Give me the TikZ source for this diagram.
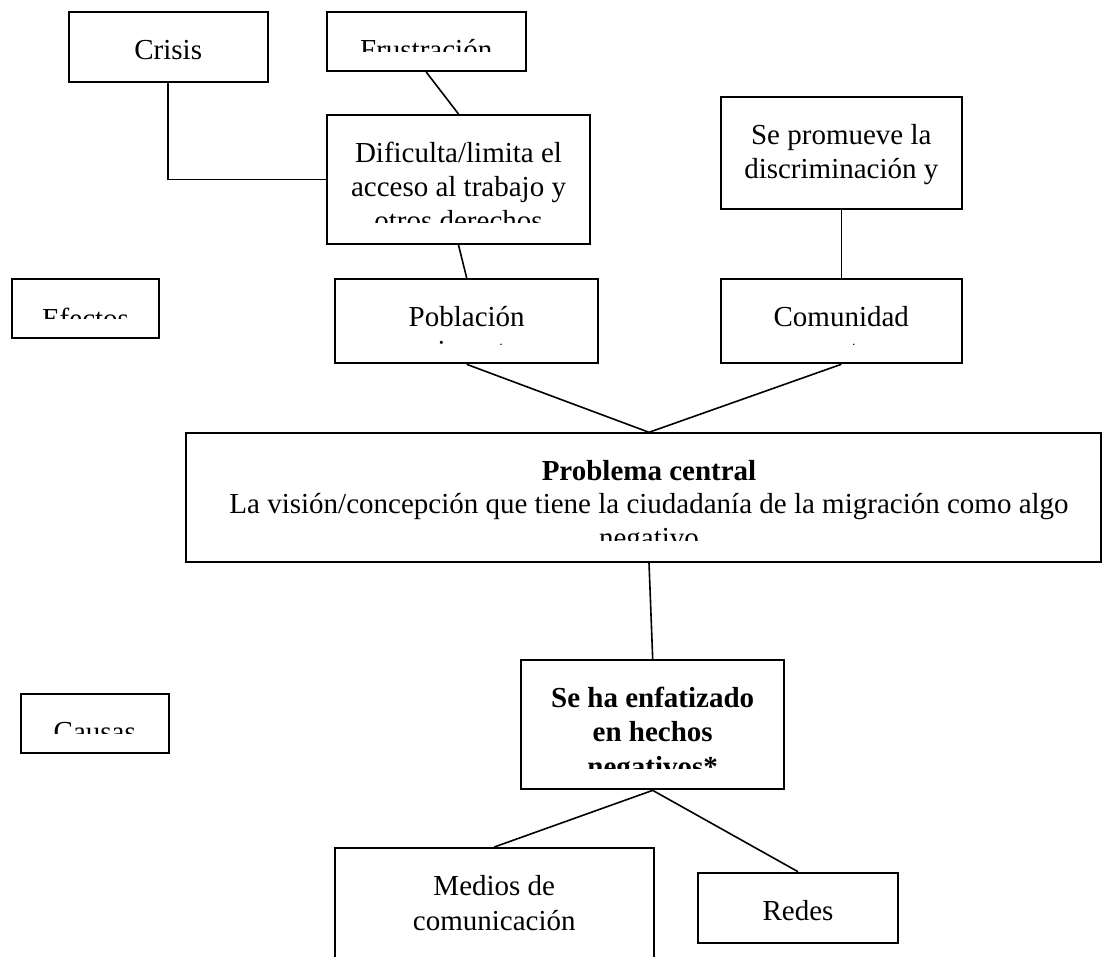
\documentclass[tikz,border=0pt]{standalone}
\usepackage{fontspec}
\setmainfont{Liberation Serif}
\newcommand{\boxfont}{\fontsize{29}{34}\selectfont}
\tikzset{
  box/.style={draw, line width=2pt, inner sep=0pt},
  lbl/.style={inner sep=0pt, anchor=base, font=\boxfont},
  link/.style={line width=1.6pt}
}
\begin{document}
\begin{tikzpicture}[x=1pt, y=-1pt]
	\clip (0,0) rectangle (1102,957);
	% efectos
	\node[box, minimum width=199, minimum height=69.4] (crisis) at (168.2,47) {};
	\node[box, minimum width=199, minimum height=58.7] (frus) at (426.2,41.7) {};
	\node[box, minimum width=263, minimum height=129] (dific) at (458.5,179.5) {};
	\node[box, minimum width=240.7, minimum height=112] (prom) at (841.3,153.3) {};
	\node[box, minimum width=147.6, minimum height=59.3] (efect) at (85.5,308.7) {};
	\node[box, minimum width=263.3, minimum height=84.3] (pobl) at (466.7,321.2) {};
	\node[box, minimum width=240.7, minimum height=84] (comu) at (841.3,321.3) {};
	% problema central
	\node[box, minimum width=915, minimum height=128.4] (prob) at (643.5,497.5) {};
	% causas
	\node[box, minimum width=147.7, minimum height=59.6] (causa) at (94.8,723.5) {};
	\node[box, minimum width=263.3, minimum height=129.3] (sehaf) at (652.7,724.7) {};
	\node[box, minimum width=319.3, minimum height=152] (medios) at (494.3,924) {};
	\node[box, minimum width=199.4, minimum height=70] (redes) at (798,907.7) {};

	\node[lbl] (crisis-t) at (168.2,60) {Crisis};
	\begin{scope}
		\clip (326,0) rectangle (526,51.7);
		\node[lbl] (frus-t) at (426.2,60) {Frustración};
	\end{scope}
	\begin{scope}
		\clip (327,115) rectangle (590,222.7);
		\node[lbl] (dific-t1) at (458.5,163) {Dificulta/limita el};
		\node[lbl] (dific-t2) at (458.5,197) {acceso al trabajo y};
		\node[lbl] (dific-t3) at (458.5,231) {otros derechos};
	\end{scope}
	\node[lbl] (prom-t1) at (841.3,145) {Se promueve la};
	\node[lbl] (prom-t2) at (841.3,178.3) {discriminación y};
	\begin{scope}
		\clip (12,279) rectangle (159,318.3);
		\node[lbl] (efect-t) at (85.5,328.3) {Efectos};
	\end{scope}
	\begin{scope}
		\clip (335,279) rectangle (598,344.5);
		\node[lbl] (pobl-t1) at (466.7,326.7) {Población};
		\node[lbl] (pobl-t2) at (466.7,360.7) {migrante};
	\end{scope}
	\begin{scope}
		\clip (721,279) rectangle (962,344.5);
		\node[lbl] (comu-t1) at (841.3,326.7) {Comunidad};
		\node[lbl] (comu-t2) at (841.3,360.7) {receptora};
	\end{scope}
	\begin{scope}
		\clip (186,433) rectangle (1101,540);
		\node[lbl, font=\boxfont\bfseries] (prob-t1) at (649,480) {Problema central};
		\node[lbl] (prob-t2) at (649,513) {La visión/concepción que tiene la ciudadanía de la migración como algo};
		\node[lbl] (prob-t3) at (649,547) {negativo};
	\end{scope}
	\begin{scope}
		\clip (21,694) rectangle (169,733.3);
		\node[lbl] (causa-t) at (94.8,741.7) {Causas};
	\end{scope}
	\begin{scope}
		\clip (521,660) rectangle (784,768.3);
		\node[lbl, font=\boxfont\bfseries] (sehaf-t1) at (652.7,707.3) {Se ha enfatizado};
		\node[lbl, font=\boxfont\bfseries] (sehaf-t2) at (652.7,741.7) {en hechos};
		\node[lbl, font=\boxfont\bfseries] (sehaf-t3) at (652.7,776) {negativos*};
	\end{scope}
	\node[lbl] (medios-t1) at (494.3,895) {Medios de};
	\node[lbl] (medios-t2) at (494.3,930) {comunicación};
	\node[lbl] (redes-t) at (798,920.7) {Redes};

	\draw[link] (crisis.south) |- (dific.west);
	\draw[link] (frus.south) -- (dific.north);
	\draw[link] (dific.south) -- (pobl.north);
	\draw[link] (prom.south) -- (comu.north);
	\draw[link] (pobl.south) -- (prob.north -| prob-t1) -- (comu.south);
	\draw[link] (prob.south -| prob-t1) -- (sehaf.north);
	\draw[link] (medios.north) -- (sehaf.south) -- (redes.north);
\end{tikzpicture}
\end{document}
